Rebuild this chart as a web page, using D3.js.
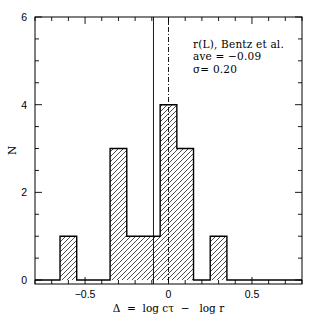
<!DOCTYPE html>
<html>
<head>
<meta charset="utf-8">
<script src="https://cdn.jsdelivr.net/npm/d3@7"></script>
<style>
  body { margin: 0; background: #fff; }
  svg { display: block; }
</style>
</head>
<body>
<div id="graphic"></div>
<script>
// histogram bins (left edge, right edge, count)
const binEdges = [-0.8, -0.65, -0.55, -0.45, -0.35, -0.25, -0.15, -0.05, 0.05, 0.15, 0.25, 0.35, 0.8];
const binCounts = [0, 1, 0, 0, 3, 1, 1, 4, 3, 0, 1, 0];
const aveValue = -0.09;
const xTickLabels = [-0.5, 0, 0.5];
const yTickLabels = [0, 2, 4, 6];
const annotation = ["r(L), Bentz et al.", "ave = \u22120.09", "\u03c3= 0.20"];

const W = 319, H = 319;
const margin = { top: 17, right: 17, bottom: 35, left: 35 };
const chartWidth = W - margin.left - margin.right;
const height = H - margin.top - margin.bottom;

const svg = d3.select('#graphic').append('svg')
  .attr('width', W).attr('height', H);

const defs = svg.append('defs');
defs.append('pattern')
  .attr('id', 'hatch')
  .attr('patternUnits', 'userSpaceOnUse')
  .attr('width', 5).attr('height', 5)
  .append('path')
  .attr('d', 'M-1,1 L1,-1 M0,5 L5,0 M4,6 L6,4')
  .attr('stroke', '#000').attr('stroke-width', 0.7);

const g = svg.append('g').attr('transform', `translate(${margin.left},${margin.top})`);

const x = d3.scaleLinear().domain([-0.8, 0.8]).range([0, chartWidth]);
const y = d3.scaleLinear().domain([-0.09, 6]).range([height, 0]);

// hatched bars
const bins = binCounts.map((c, i) => ({ x0: binEdges[i], x1: binEdges[i + 1], n: c }));
g.selectAll('rect.bar')
  .data(bins.filter(d => d.n > 0))
  .join('rect')
  .attr('class', 'bar')
  .attr('x', d => x(d.x0))
  .attr('width', d => x(d.x1) - x(d.x0))
  .attr('y', d => y(d.n))
  .attr('height', d => y(0) - y(d.n))
  .attr('fill', 'url(#hatch)');

// step outline
const steps = [];
bins.forEach(d => { steps.push([d.x0, d.n]); steps.push([d.x1, d.n]); });
g.append('path')
  .attr('d', d3.line().x(d => x(d[0])).y(d => y(d[1]))(steps))
  .attr('fill', 'none').attr('stroke', '#000').attr('stroke-width', 1.4);

// reference lines
g.append('line')
  .attr('x1', x(aveValue)).attr('x2', x(aveValue))
  .attr('y1', 0).attr('y2', height)
  .attr('stroke', '#000').attr('stroke-width', 0.9);
g.append('line')
  .attr('x1', x(0)).attr('x2', x(0))
  .attr('y1', 0).attr('y2', height)
  .attr('stroke', '#000').attr('stroke-width', 0.9)
  .attr('stroke-dasharray', '5,2,1,2');

// frame and ticks
g.append('rect')
  .attr('width', chartWidth).attr('height', height)
  .attr('fill', 'none').attr('stroke', '#000').attr('stroke-width', 1);

const xMinor = d3.range(-0.8, 0.81, 0.1).map(v => Math.round(v * 10) / 10);
const yMinor = d3.range(0, 6.01, 0.5);
const tick = g.append('g').attr('stroke', '#000').attr('stroke-width', 0.9);
xMinor.forEach(v => {
  const L = xTickLabels.includes(v) ? 7 : 4;
  tick.append('line').attr('x1', x(v)).attr('x2', x(v)).attr('y1', height).attr('y2', height - L);
  tick.append('line').attr('x1', x(v)).attr('x2', x(v)).attr('y1', 0).attr('y2', L);
});
yMinor.forEach(v => {
  const L = yTickLabels.includes(v) ? 7 : 4;
  tick.append('line').attr('y1', y(v)).attr('y2', y(v)).attr('x1', 0).attr('x2', L);
  tick.append('line').attr('y1', y(v)).attr('y2', y(v)).attr('x1', chartWidth).attr('x2', chartWidth - L);
});

const fmt = v => v === 0 ? '0' : (v < 0 ? '\u2212' : '') + Math.abs(v);
g.selectAll('text.xt').data(xTickLabels).join('text')
  .attr('x', d => x(d)).attr('y', height + 14)
  .attr('text-anchor', 'middle')
  .style('font', '10.5px "Liberation Sans", sans-serif')
  .text(fmt);
g.selectAll('text.yt').data(yTickLabels).join('text')
  .attr('x', -8).attr('y', d => y(d) + 4)
  .attr('text-anchor', 'end')
  .style('font', '10.5px "Liberation Sans", sans-serif')
  .text(d => d);

// axis labels
g.append('text')
  .attr('x', x(0)).attr('y', height + 28)
  .attr('text-anchor', 'middle')
  .attr('xml:space', 'preserve')
  .style('font', '10.5px "DejaVu Serif", serif')
  .style('white-space', 'pre')
  .text('\u0394  =  log c\u03c4  \u2212   log r');
svg.append('text')
  .attr('transform', `translate(16,${margin.top + height / 2}) rotate(-90)`)
  .attr('text-anchor', 'middle')
  .style('font', '10.5px "DejaVu Serif", serif')
  .text('N');

// annotation
g.selectAll('text.ann').data(annotation).join('text')
  .attr('x', 158).attr('y', (d, i) => 30.5 + i * 12.7)
  .attr('xml:space', 'preserve')
  .style('white-space', 'pre')
  .style('font', '10.5px "DejaVu Serif", serif')
  .style('letter-spacing', '0.2px')
  .text(d => d);
</script>
</body>
</html>
